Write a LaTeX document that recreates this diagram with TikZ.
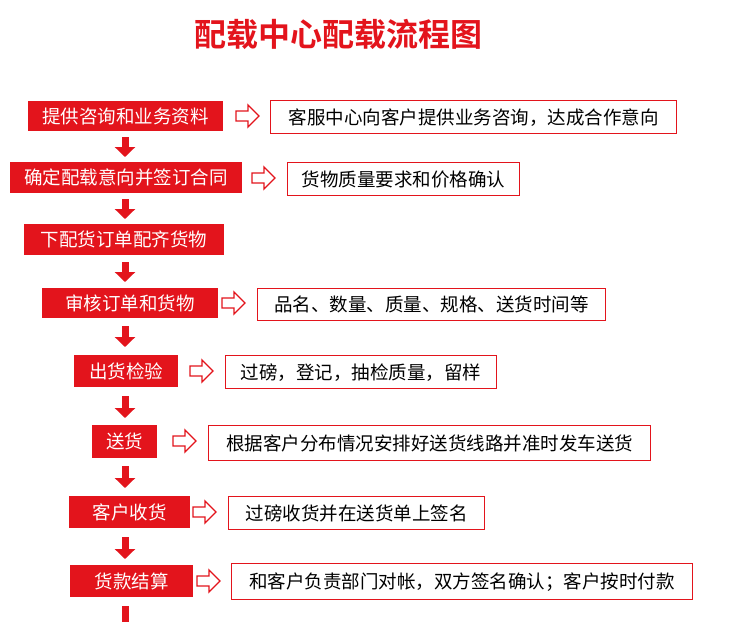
\documentclass[tikz,border=0pt]{standalone}
\usepackage{fontspec}
\setmainfont{Noto Sans CJK SC}
\newfontfamily\titlefont{Noto Sans CJK SC Bold}
\usetikzlibrary{arrows.meta}
\definecolor{rd}{HTML}{E3141C}
\tikzset{
  x=1pt,y=-1pt,
  redbox/.style={fill=rd,text=white,font=\fontsize{18.5}{20}\selectfont,inner sep=0pt,anchor=north west},
  infobox/.style={draw=rd,line width=1.4pt,fill=white,font=\fontsize{18.5}{20}\selectfont,inner sep=0pt,anchor=north west},
  down/.style={rd,line width=7pt,-{Triangle[width=20pt,length=10pt]}},
  hollow/.pic={\draw[rd,line width=1.3pt,fill=white,line join=miter]
     (0,-5)--(12,-5)--(12,-11)--(23,0)--(12,11)--(12,5)--(0,5)--cycle;}
}
\newcommand{\rbox}[6]{\node[redbox,minimum width=#4-#2,minimum height=#5-#3] (#1) at (#2,#3) {#6};}
\newcommand{\ibox}[6]{\node[infobox,minimum width=#4-#2,minimum height=#5-#3] (#1) at (#2,#3) {#6};}
\begin{document}
\begin{tikzpicture}
\useasboundingbox[fill=white] (0,0) rectangle (750,622);
\node[text=rd,font=\titlefont\fontsize{32}{34}\selectfont] (title) at (338,34) {配载中心配载流程图};
\rbox{r1}{28}{101}{223}{131}{提供咨询和业务资料}
\rbox{r2}{10}{162}{242}{193}{确定配载意向并签订合同}
\rbox{r3}{24}{224}{224}{255}{下配货订单配齐货物}
\rbox{r4}{42}{288}{218}{318}{审核订单和货物}
\rbox{r5}{74}{355}{178}{387}{出货检验}
\rbox{r6}{92}{425}{157}{458}{送货}
\rbox{r7}{69}{496}{190}{528}{客户收货}
\rbox{r8}{70}{565}{193}{597}{货款结算}
\ibox{i1}{270}{100}{676}{133}{客服中心向客户提供业务咨询，达成合作意向}
\ibox{i2}{287}{162}{519}{195}{货物质量要求和价格确认}
\ibox{i4}{257}{288}{605}{320}{品名、数量、质量、规格、送货时间等}
\ibox{i5}{225}{355}{496}{388}{过磅，登记，抽检质量，留样}
\ibox{i6}{208}{425}{650}{460}{根据客户分布情况安排好送货线路并准时发车送货}
\ibox{i7}{228}{496}{484}{529}{过磅收货并在送货单上签名}
\ibox{i8}{231}{563}{692}{599}{和客户负责部门对帐，双方签名确认；客户按时付款}
\pic at (236,116) {hollow};
\pic at (252,178) {hollow};
\pic at (222,303) {hollow};
\pic at (190,371) {hollow};
\pic at (173,441) {hollow};
\pic at (193,512) {hollow};
\pic at (197,581) {hollow};
\coordinate (e) at (125,622);
\draw[down] (125,137) -- (125,157);
\draw[down] (125,199) -- (125,219);
\draw[down] (125,262) -- (125,282);
\draw[down] (125,326) -- (125,347);
\draw[down] (125,396) -- (125,418);
\draw[down] (125,466) -- (125,488);
\draw[down] (125,537) -- (125,559);
\draw[rd,line width=7pt] (125,606) -- (e);
\end{tikzpicture}
\end{document}
